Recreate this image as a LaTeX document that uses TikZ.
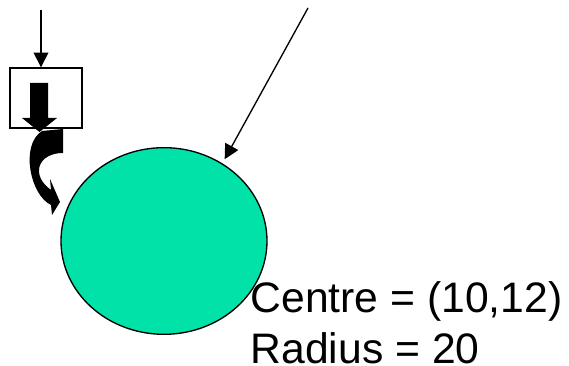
\documentclass[tikz,border=0pt]{standalone}
\usepackage{fontspec}
\setmainfont{Liberation Sans}
\usetikzlibrary{arrows.meta, positioning, shapes.geometric}
\definecolor{discgreen}{RGB}{0,226,168}

\begin{document}
\begin{tikzpicture}[x=0.75pt, y=-0.75pt, line width=1pt,
  pointer/.style={-{Triangle[length=11pt,width=11pt]}},
  label/.style={anchor=base west, inner sep=0, font=\fontsize{32}{36}\selectfont}]
  \useasboundingbox (0,0) rectangle (569,366);
  % box and disc
  \node[draw, fill=white, minimum width=54pt, minimum height=45pt, inner sep=0] (box) at (46,98) {};
  \node[ellipse, draw, fill=discgreen, minimum width=154.5pt, minimum height=140pt,
        inner sep=0, outer sep=0] (disc) at (164,241) {};
  % block arrows
  \fill (30,83) -- (48,83) -- (48,118) -- (57,118) -- (39.5,132) -- (22,118) -- (30,118) -- cycle;
  \fill (63,129) -- (63,153) .. controls (38,153) and (30,175) .. (51,190) -- (50,179)
        -- (60,202) -- (52,215) -- (51,205) .. controls (30,195) and (20,145) .. (42,131) -- cycle;
  % incoming arrows
  \coordinate (top) at (41,10);
  \coordinate (far) at (308,8);
  \draw[pointer] (top) -- (top |- box.north);
  \draw[pointer, shorten >=4pt] (far) -- (disc.53);
  % labels
  \node[label] (centre) at (250,313) {Centre = (10,12)};
  \node[label] (radius) at (250,364) {Radius = 20};
\end{tikzpicture}
\end{document}
